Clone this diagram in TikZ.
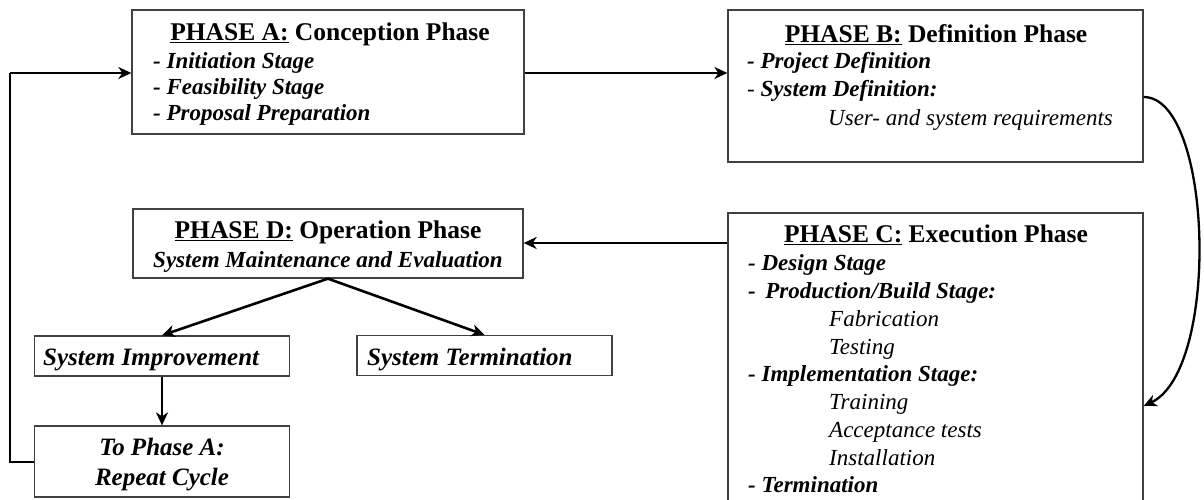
\documentclass[tikz,border=0pt]{standalone}
\usepackage{fontspec}
\setmainfont{Liberation Serif}
\usetikzlibrary{arrows.meta}

% underline for the phase labels
\newcommand\phaselabel[1]{\leavevmode\setbox0\hbox{#1}\rlap{\rule[-3.2pt]{\wd0}{1.4pt}}\box0\relax}

\begin{document}
\begin{tikzpicture}[x=1pt,y=1pt,
  box/.style={draw=black!75, line width=1.3pt, inner sep=0pt, fill=white},
  hdr/.style={font=\fontsize{25.5}{30}\selectfont\bfseries, anchor=base, inner sep=0pt},
  itm/.style={font=\fontsize{23}{27}\selectfont\bfseries\itshape, anchor=base west, inner sep=0pt},
  subitm/.style={font=\fontsize{23}{27}\selectfont\itshape, anchor=base west, inner sep=0pt},
  big/.style={font=\fontsize{25}{29}\selectfont\bfseries\itshape, inner sep=0pt},
  conn/.style={line width=2.6pt, -{Stealth[length=13pt,width=12pt,inset=4pt]}},
  curveconn/.style={line width=2.3pt, -{Stealth[length=13pt,width=12pt,inset=4pt]}}]

\useasboundingbox (0,0) rectangle (1204,-499);

% boxes
\node[box, minimum width=392, minimum height=124] (A) at (328,-72) {};
\node[box, minimum width=415, minimum height=152] (B) at (935.5,-86) {};
\node[box, minimum width=415, minimum height=307] (C) at (935.5,-366.5) {};
\node[box, minimum width=390, minimum height=69]  (D) at (328,-243.5) {};
\node[box, minimum width=255, minimum height=40]  (SI) at (162,-356) {};
\node[box, minimum width=255, minimum height=40]  (ST) at (484.5,-355.5) {};
\node[box, minimum width=255, minimum height=71]  (RP) at (162,-461.5) {};

% phase A
\node[hdr] (Ah) at (330,-40) {\phaselabel{PHASE A:} Conception Phase};
\node[itm] (A1) at (153,-68)  {- Initiation Stage};
\node[itm] (A2) at (153,-94)  {- Feasibility Stage};
\node[itm] (A3) at (153,-120) {- Proposal Preparation};

% phase B
\node[hdr] (Bh) at (936,-42) {\phaselabel{PHASE B:} Definition Phase};
\node[itm] (B1) at (747,-68) {- Project Definition};
\node[itm] (B2) at (747,-96) {{\normalfont\fontsize{23}{27}\selectfont -} System Definition:};
\node[subitm] (B3) at (828,-125) {User- and system requirements};

% phase C
\node[hdr] (Ch) at (936,-242) {\phaselabel{PHASE C:} Execution Phase};
\node[itm] (C1) at (748,-270) {- Design Stage};
\node[itm] (C2) at (748,-298) {-~\,Production/Build Stage:};
\node[subitm] (C3) at (829,-326) {Fabrication};
\node[subitm] (C4) at (829,-354) {Testing};
\node[itm] (C5) at (748,-381) {- Implementation Stage:};
\node[subitm] (C6) at (829,-409) {Training};
\node[subitm] (C7) at (829,-437) {Acceptance tests};
\node[subitm] (C8) at (829,-465) {Installation};
\node[itm] (C9) at (748,-492) {- Termination};

% phase D
\node[hdr] (Dh) at (328,-238) {\phaselabel{PHASE D:} Operation Phase};
\node[hdr, font=\fontsize{23}{27}\selectfont\bfseries\itshape] (Ds) at (328,-267) {System Maintenance and Evaluation};

% outcomes
\node[big, anchor=base west] (SIt) at (43,-365) {System Improvement};
\node[big, anchor=base west] (STt) at (367,-365) {System Termination};
\node[big, anchor=base] (RP1) at (162,-455) {To Phase A:};
\node[big, anchor=base] (RP2) at (162,-485) {Repeat Cycle};

% connectors
\coordinate (loopbot) at (10,-462);
\coordinate (looptop) at (10,-73);
\draw[line width=2.6pt] (RP.west |- loopbot) -- (loopbot) -- (looptop);
\draw[conn] (looptop) -- (A.west |- looptop);
\draw[conn] (A.east |- 0,-73) -- (B.west |- 0,-73);
\draw[curveconn] ([yshift=-11pt]B.east) .. controls +(69,0) and +(77,36) .. ([yshift=-39.5pt]C.east);
\draw[conn] (C.west |- 0,-243) -- (D.east |- 0,-243);
\draw[conn] (D.south) -- (SI.north);
\draw[conn] (D.south) -- (ST.north);
\draw[conn] (SI.south) -- (RP.north);
\end{tikzpicture}
\end{document}
